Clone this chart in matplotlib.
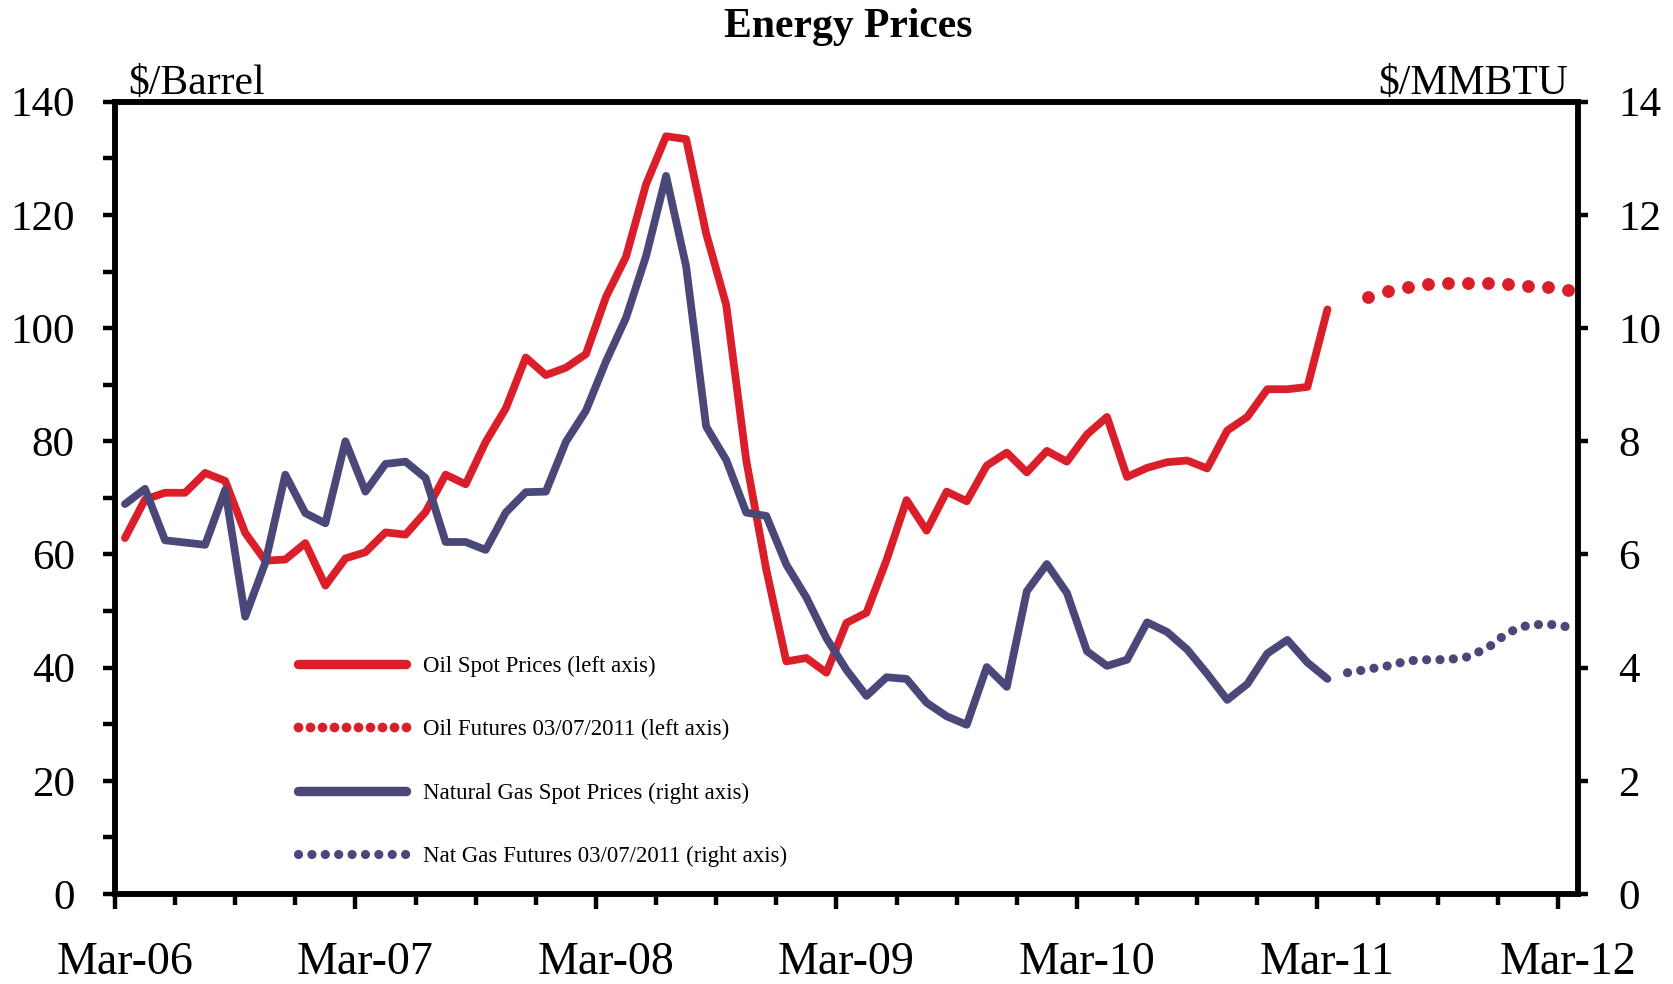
import numpy as np
import pandas as pd
import matplotlib
matplotlib.use('Agg')
import matplotlib.pyplot as plt

plt.rcParams['font.family'] = ['Liberation Serif', 'DejaVu Serif']

# monthly categories on the x axis, Mar-06 .. Mar-12
months = pd.date_range('2006-03-01', '2012-03-01', freq='MS')

# WTI spot, $/barrel, Mar-06 .. Mar-11
oil_spot = [62.9, 69.7, 70.9, 70.9, 74.4, 73.0, 63.8, 58.9, 59.1, 62.0,
            54.5, 59.3, 60.4, 63.9, 63.5, 67.5, 74.1, 72.4, 79.9, 85.8, 94.8, 91.7,
            93.0, 95.4, 105.5, 112.6, 125.4, 133.9, 133.4, 116.7, 104.1, 76.6, 57.3, 41.1,
            41.7, 39.1, 47.9, 49.7, 59.0, 69.6, 64.2, 71.1, 69.4, 75.7, 78.0, 74.5,
            78.3, 76.4, 81.2, 84.3, 73.7, 75.3, 76.3, 76.6, 75.2, 81.9, 84.3, 89.2,
            89.2, 89.6, 103.3]

# Henry Hub spot, $/MMBTU, Mar-06 .. Mar-11
gas_spot = [6.89, 7.16, 6.25, 6.21, 6.17, 7.14, 4.90, 5.85, 7.41, 6.73,
            6.55, 8.00, 7.11, 7.60, 7.64, 7.35, 6.22, 6.22, 6.08, 6.74, 7.10, 7.11,
            7.99, 8.54, 9.41, 10.18, 11.27, 12.69, 11.09, 8.26, 7.67, 6.74, 6.68, 5.82,
            5.24, 4.52, 3.96, 3.50, 3.83, 3.80, 3.38, 3.14, 2.99, 4.01, 3.66, 5.35,
            5.83, 5.32, 4.29, 4.03, 4.14, 4.80, 4.63, 4.32, 3.89, 3.43, 3.71, 4.25,
            4.49, 4.09, 3.80]

# futures curves as of 03/07/2011
oil_fut = [105.5, 106.6, 107.2, 107.8, 107.9, 107.9, 107.9, 107.8, 107.4, 107.2, 106.8]  # May-11 .. Mar-12
gas_fut = [3.91, 3.97, 4.03, 4.12, 4.14, 4.14, 4.19, 4.35, 4.62, 4.75, 4.77, 4.72]      # Apr-11 .. Mar-12
oil_fut_start = 62
gas_fut_start = 61

red = '#DA1F2A'
blue = '#4A4779'

x_spot = np.arange(len(oil_spot)) + 0.5
x_oilf = np.arange(oil_fut_start, oil_fut_start + len(oil_fut)) + 0.5
x_gasf = np.arange(gas_fut_start, gas_fut_start + len(gas_fut)) + 0.5

fig = plt.figure(figsize=(16.73, 9.84), dpi=100)
ax = fig.add_axes([0.0687, 0.0915, 0.8745, 0.8051])
ax2 = ax.twinx()

l1, = ax.plot(x_spot, oil_spot, color=red, lw=5.6, solid_capstyle='round',
              solid_joinstyle='round', label='Oil Spot Prices (left axis)')
l2, = ax.plot(x_oilf, oil_fut, ls='none', marker='o', ms=9.2, mew=0, color=red,
              label='Oil Futures 03/07/2011 (left axis)')
l3, = ax2.plot(x_spot, gas_spot, color=blue, lw=5.6, solid_capstyle='round',
               solid_joinstyle='round', label='Natural Gas Spot Prices (right axis)')
l4, = ax2.plot(x_gasf, gas_fut, color=blue, lw=6.6, ls=(0, (0.01, 1.45)),
               dash_capstyle='round', label='Nat Gas Futures 03/07/2011 (right axis)')

ax.set_xlim(0, len(months))
ax.set_ylim(0, 140)
ax2.set_ylim(0, 14)

ax.set_yticks(range(0, 141, 20))
ax.set_yticks(range(10, 140, 20), minor=True)
ax2.set_yticks(range(0, 15, 2))
ax.set_xticks(range(0, len(months) + 1, 12))
ax.set_xticks(range(0, len(months) + 1, 3), minor=True)

ax.tick_params(axis='y', which='both', direction='out', length=9, width=3.2,
               labelsize=31, pad=20)
ax.tick_params(axis='x', which='major', direction='out', length=11, width=3.2,
               labelbottom=False)
ax.tick_params(axis='x', which='minor', direction='out', length=8, width=3.2)
ax2.tick_params(axis='y', direction='out', length=7, width=3.2, labelsize=31, pad=22)

for a in (ax, ax2):
    for s in a.spines.values():
        s.set_linewidth(4)

# year labels sit in the middle of each March category
lab_pos = [i + 0.5 for i, m in enumerate(months) if m.month == 3]
lab_txt = [m.strftime('%b-%y') for m in months if m.month == 3]
sec = ax.secondary_xaxis('bottom')
sec.set_xticks(lab_pos, lab_txt)
sec.tick_params(length=0, labelsize=33, pad=34)
sec.spines['bottom'].set_visible(False)

fig.text(0.507, 0.962, 'Energy Prices', ha='center', va='baseline',
         fontsize=30, fontweight='bold')
fig.text(128 / 1673, 1 - 94 / 984, '\\$/Barrel', ha='left', va='baseline', fontsize=30)
fig.text(1568 / 1673, 1 - 94 / 984, '\\$/MMBTU', ha='right', va='baseline', fontsize=30)

leg = ax2.legend([l1, l2, l3, l4], [l.get_label() for l in (l1, l2, l3, l4)],
                 loc='upper left', bbox_to_anchor=(291 / 1673, 0.334),
                 bbox_transform=fig.transFigure, frameon=False, fontsize=16.5,
                 handlelength=5.3, handletextpad=0.45, labelspacing=1.85,
                 borderpad=0, borderaxespad=0, numpoints=10, markerscale=0.76)
for h in leg.legend_handles:
    if h.get_linestyle() == '-':
        h.set_linewidth(6.8)

fig.savefig('out.png', dpi=100)
